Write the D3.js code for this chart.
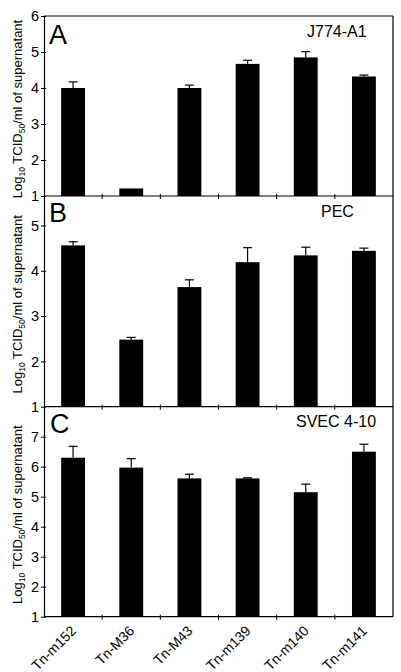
<!DOCTYPE html>
<html>
<head>
<meta charset="utf-8">
<script src="https://cdn.jsdelivr.net/npm/d3@7"></script>
<style>
  html, body { margin: 0; padding: 0; background: #fff; }
  svg { display: block; }
  text { font-family: "Liberation Sans", Arial, Helvetica, sans-serif; fill: #000; }
</style>
</head>
<body>
<svg id="chart" width="401" height="672"></svg>
<script>
// ---- data ----
const categories = ["Tn-m152", "Tn-M36", "Tn-M43", "Tn-m139", "Tn-m140", "Tn-m141"];
const panelLetters = ["A", "B", "C"];
const cellLines = ["J774-A1", "PEC", "SVEC 4-10"];
const valuesA = [4.00, 1.21, 4.00, 4.67, 4.85, 4.32];
const errorsA = [0.17, 0.00, 0.08, 0.10, 0.16, 0.04];
const valuesB = [4.56, 2.48, 3.64, 4.19, 4.34, 4.44];
const errorsB = [0.08, 0.05, 0.16, 0.32, 0.18, 0.06];
const valuesC = [6.30, 5.97, 5.61, 5.61, 5.15, 6.50];
const errorsC = [0.38, 0.30, 0.14, 0.02, 0.27, 0.25];
const domainA = [1, 6];
const domainB = [1, 5.65];
const domainC = [1, 8];
const ticksA = [1, 2, 3, 4, 5, 6];
const ticksB = [1, 2, 3, 4, 5];
const ticksC = [1, 2, 3, 4, 5, 6, 7];

// ---- layout ----
const left = 44, right = 393;
const panelTops = [16, 196, 406.7];
const panelBottoms = [196, 406.7, 616.7];
const letterPos = [[49, 44], [49, 221.7], [50, 433]];
const cellPos = [[307, 37], [321, 217.3], [296, 426.7]];

const panels = [
  { values: valuesA, errors: errorsA, domain: domainA, ticks: ticksA },
  { values: valuesB, errors: errorsB, domain: domainB, ticks: ticksB },
  { values: valuesC, errors: errorsC, domain: domainC, ticks: ticksC }
];

const svg = d3.select("#chart");
const x = d3.scaleBand().domain(categories).range([left, right]).padding(0);
const barW = x.bandwidth() * 0.41;

panels.forEach((p, i) => {
  const top = panelTops[i], bottom = panelBottoms[i];
  const y = d3.scaleLinear().domain(p.domain).range([bottom, top]);
  const g = svg.append("g");

  // bars
  g.selectAll("rect.bar").data(categories).join("rect")
    .attr("class", "bar")
    .attr("x", d => x(d) + (x.bandwidth() - barW) / 2)
    .attr("width", barW)
    .attr("y", (d, j) => y(p.values[j]))
    .attr("height", (d, j) => y(p.domain[0]) - y(p.values[j]))
    .attr("fill", "#000");

  // error bars (upper)
  categories.forEach((c, j) => {
    if (p.errors[j] <= 0) return;
    const cx = x(c) + x.bandwidth() / 2;
    const y0 = y(p.values[j]), y1 = y(p.values[j] + p.errors[j]);
    g.append("line").attr("x1", cx).attr("x2", cx).attr("y1", y0).attr("y2", y1)
      .attr("stroke", "#000").attr("stroke-width", 1.2);
    g.append("line").attr("x1", cx - 4.5).attr("x2", cx + 4.5).attr("y1", y1).attr("y2", y1)
      .attr("stroke", "#000").attr("stroke-width", 1.2);
  });

  // y axis
  const yAxis = d3.axisLeft(y).tickValues(p.ticks).tickFormat(d3.format("d"))
    .tickSizeInner(3).tickSizeOuter(0).tickPadding(2);
  const ya = g.append("g").attr("transform", `translate(${left},0)`).call(yAxis);
  ya.select(".domain").attr("stroke", "#000").attr("stroke-width", 1.2);
  ya.selectAll(".tick line").attr("stroke", "#000").attr("x2", 2).attr("x1", -3);
  ya.selectAll(".tick text").attr("font-size", 14.5).attr("font-family", "Liberation Sans, Arial, sans-serif");

  // x axis line with ticks at band boundaries
  g.append("line").attr("x1", left).attr("x2", right).attr("y1", bottom).attr("y2", bottom)
    .attr("stroke", "#000").attr("stroke-width", 1.2);
  categories.slice(1).forEach(c => {
    g.append("line").attr("x1", x(c)).attr("x2", x(c)).attr("y1", bottom - 2).attr("y2", bottom + 3)
      .attr("stroke", "#000").attr("stroke-width", 1);
  });

  // panel letter
  g.append("text").attr("x", letterPos[i][0]).attr("y", letterPos[i][1])
    .attr("font-size", 27).text(panelLetters[i]);
  // cell line
  g.append("text").attr("x", cellPos[i][0]).attr("y", cellPos[i][1])
    .attr("font-size", 16).text(cellLines[i]);

  // y title
  const cy = (top + bottom) / 2 + 3;
  const t = g.append("text").attr("transform", `translate(22,${cy}) rotate(-90)`)
    .attr("text-anchor", "middle").attr("font-size", 13);
  t.append("tspan").text("Log");
  t.append("tspan").attr("font-size", 8.5).attr("dy", 3).text("10");
  t.append("tspan").attr("dy", -3).text(" TCID");
  t.append("tspan").attr("font-size", 8.5).attr("dy", 3).text("50");
  t.append("tspan").attr("dy", -3).text("/ml of supernatant");
});

// top and right frame
svg.append("line").attr("x1", left).attr("x2", right).attr("y1", panelTops[0]).attr("y2", panelTops[0])
  .attr("stroke", "#000").attr("stroke-width", 1.2);
svg.append("line").attr("x1", right).attr("x2", right).attr("y1", panelTops[0]).attr("y2", panelBottoms[2])
  .attr("stroke", "#000").attr("stroke-width", 1.2);

// x tick labels
svg.append("g").selectAll("text").data(categories).join("text")
  .attr("transform", d => `translate(${x(d) + x.bandwidth() / 2 + 4},${panelBottoms[2] + 15}) rotate(-45)`)
  .attr("text-anchor", "end")
  .attr("font-size", 14)
  .text(d => d);
</script>
</body>
</html>
